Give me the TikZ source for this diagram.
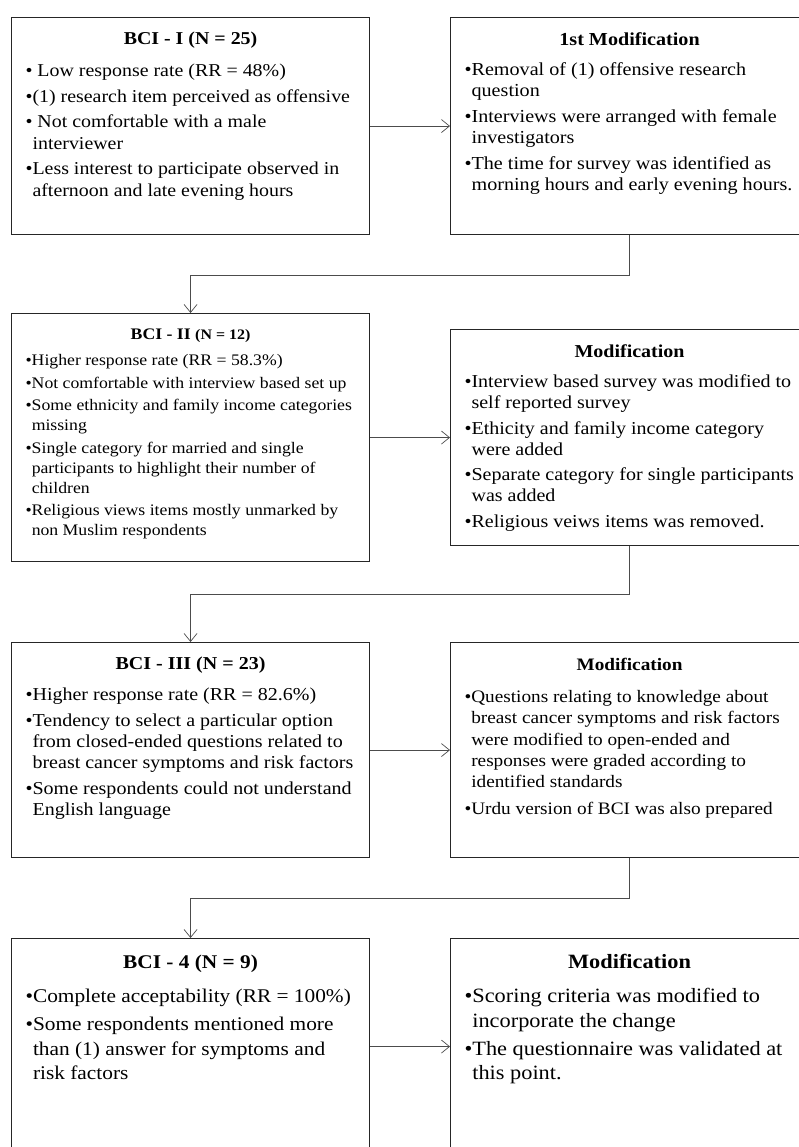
\documentclass[tikz,border=0pt]{standalone}
\usepackage{fontspec}
\setmainfont{Liberation Serif}[FakeStretch=1.1]
\usetikzlibrary{arrows.meta}

% continuation line of a bullet item
\newcommand{\cont}{\hphantom{\textbullet}}
% box text: height, size, skip, title strut, title, gap, items
\newcommand{\panelbox}[7]{%
  \parbox[c][#1][t]{330pt}{\fontsize{#2}{#3}\selectfont
    \centering\rule{0pt}{#4}\textbf{#5}\par
    \vspace{#6}\raggedright #7}}

\begin{document}
\begin{tikzpicture}[x=1pt, y=-1pt,
    panel/.style={draw=black!85, line width=1.1pt, inner xsep=14pt, inner ysep=0pt, anchor=north west},
    flow/.style={draw=black!70, line width=0.7pt, -{Straight Barb[length=8pt,width=13pt]}}]
  \useasboundingbox (0,0) rectangle (799,1147);
  \clip (0,0) rectangle (799,1147);

  % first round
  \node[panel] (bci1) at (11,17) {\panelbox{217pt}{18.1}{21.5}{27pt}{BCI - I (N = 25)}{10.5pt}{%
    \textbullet\ Low response rate (RR = 48\%)\\[4pt]
    \textbullet(1) research item perceived as offensive\\[4pt]
    \textbullet\ Not comfortable with a male\\
    \cont interviewer\\[4pt]
    \textbullet Less interest to participate observed in\\
    \cont afternoon and late evening hours}};
  \node[panel] (mod1) at (450,17) {\panelbox{217pt}{18.3}{21}{28pt}{1st Modification}{9pt}{%
    \textbullet Removal of (1) offensive research\\
    \cont question\\[5pt]
    \textbullet Interviews were arranged with female\\
    \cont investigators\\[5pt]
    \textbullet The time for survey was identified as\\
    \cont morning hours and early evening hours.}};

  % second round
  \node[panel] (bci2) at (11,313) {\panelbox{248pt}{16.1}{20}{26pt}{BCI - II {\fontsize{14.5}{16}\selectfont (N = 12)}}{6pt}{%
    \textbullet Higher response rate (RR = 58.3\%)\\[2.5pt]
    \textbullet Not comfortable with interview based set up\\[2.5pt]
    \textbullet Some ethnicity and family income categories\\
    \cont missing\\[2.5pt]
    \textbullet Single category for married and single\\
    \cont participants to highlight their number of\\
    \cont children\\[2.5pt]
    \textbullet Religious views items mostly unmarked by\\
    \cont non Muslim respondents}};
  \node[panel] (mod2) at (450,329) {\panelbox{216pt}{18.2}{21}{28pt}{Modification}{9pt}{%
    \textbullet Interview based survey was modified to\\
    \cont self reported survey\\[4.5pt]
    \textbullet Ethicity and family income category\\
    \cont were added\\[4.5pt]
    \textbullet Separate category for single participants\\
    \cont was added\\[4.5pt]
    \textbullet Religious veiws items was removed.}};

  % third round
  \node[panel] (bci3) at (11,642) {\panelbox{215pt}{18.2}{21}{27pt}{BCI - III (N = 23)}{10pt}{%
    \textbullet Higher response rate (RR = 82.6\%)\\[5pt]
    \textbullet Tendency to select a particular option\\
    \cont from closed-ended questions related to\\
    \cont breast cancer symptoms and risk factors\\[5pt]
    \textbullet Some respondents could not understand\\
    \cont English language}};
  \node[panel] (mod3) at (450,642) {\panelbox{215pt}{17.5}{21.3}{28pt}{Modification}{10.7pt}{%
    \textbullet Questions relating to knowledge about\\
    \cont breast cancer symptoms and risk factors\\
    \cont were modified to open-ended and\\
    \cont responses were graded according to\\
    \cont identified standards\\[5pt]
    \textbullet Urdu version of BCI was also prepared}};

  % fourth round
  \node[panel] (bci4) at (11,938) {\panelbox{216pt}{19.4}{24.5}{30pt}{BCI - 4 (N = 9)}{9.5pt}{%
    \textbullet Complete acceptability (RR = 100\%)\\[3.5pt]
    \textbullet Some respondents mentioned more\\
    \cont than (1) answer for symptoms and\\
    \cont risk factors}};
  \node[panel] (mod4) at (450,938) {\panelbox{216pt}{20.3}{24.5}{30pt}{Modification}{9.5pt}{%
    \textbullet Scoring criteria was modified to\\
    \cont incorporate the change\\[3.5pt]
    \textbullet The questionnaire was validated at\\
    \cont this point.}};

  \foreach \a/\b in {bci1/mod1, bci2/mod2, bci3/mod3, bci4/mod4}
    \draw[flow] (\a) -- (\b);
  \foreach \a/\b/\d in {mod1/bci2/40, mod2/bci3/48, mod3/bci4/40}
    \draw[flow] (\a.south) -- ++(0,\d) -| (\b.north);
\end{tikzpicture}
\end{document}
